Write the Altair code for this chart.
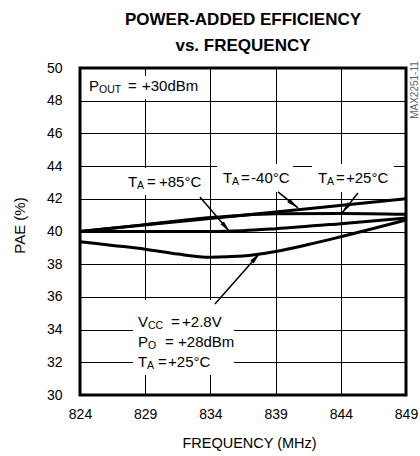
import altair as alt
import pandas as pd
import numpy as np

# ---------------- data ----------------
freq_m40 = [824, 836.5, 849]
pae_m40 = [40.0, 41.0, 42.0]
freq_p25 = [824, 829, 834, 836.5, 839, 844, 849]
pae_p25 = [40.0, 40.42, 40.85, 41.0, 41.08, 41.1, 41.05]
freq_p85 = [824, 829, 834, 836.5, 839, 844, 849]
pae_p85 = [40.0, 40.0, 40.0, 40.05, 40.17, 40.48, 40.82]
freq_lv = [824, 826.5, 829, 831.5, 834, 836.5, 839, 841.5, 844, 846.5, 849]
pae_lv = [39.38, 39.15, 38.92, 38.62, 38.43, 38.5, 38.78, 39.2, 39.68, 40.18, 40.7]

x_ticks = [824, 829, 834, 839, 844, 849]
y_ticks = list(range(30, 52, 2))

# ---------------- layout ----------------
W, H = 326, 327
XMIN, XMAX, YMIN, YMAX = 824, 849, 30, 50
PXF = W / (XMAX - XMIN)
PXP = H / (YMAX - YMIN)
FONT = "Liberation Sans, Arial, sans-serif"
BIG, SUB = 15, 10.5
XT, YT = "FREQUENCY (MHz)", "PAE (%)"

curves = pd.concat([
    pd.DataFrame({"f": freq_m40, "pae": pae_m40, "s": "m40"}),
    pd.DataFrame({"f": freq_p25, "pae": pae_p25, "s": "p25"}),
    pd.DataFrame({"f": freq_p85, "pae": pae_p85, "s": "p85"}),
    pd.DataFrame({"f": freq_lv, "pae": pae_lv, "s": "lv"}),
])

# annotation labels: anchor (freq, pae) + pieces (text, dx px, dy px, size)
labels = [
    ((824.69, 48.87), [("P", 0, 0, BIG), ("OUT", 10, 4, SUB), ("=", 39, 0, BIG), ("+30dBm", 53, 0, BIG)]),
    ((827.68, 43.03), [("T", 0, 0, BIG), ("A", 9, 4, SUB), ("=", 19, 0, BIG), ("+85°C", 31, 0, BIG)]),
    ((834.97, 43.27), [("T", 0, 0, BIG), ("A", 9, 4, SUB), ("=", 18, 0, BIG), ("-40°C", 28, 0, BIG)]),
    ((842.25, 43.27), [("T", 0, 0, BIG), ("A", 9, 4, SUB), ("=", 18, 0, BIG), ("+25°C", 28, 0, BIG)]),
    ((828.45, 34.46), [("V", 0, 0, BIG), ("CC", 10, 4, SUB), ("=", 33, 0, BIG), ("+2.8V", 44, 0, BIG)]),
    ((828.45, 33.24), [("P", 0, 0, BIG), ("O", 10, 4, SUB), ("=", 27, 0, BIG), ("+28dBm", 40, 0, BIG)]),
    ((828.45, 32.02), [("T", 0, 0, BIG), ("A", 9, 4, SUB), ("=", 20, 0, BIG), ("+25°C", 30, 0, BIG)]),
]
rows = []
for (af, ap), pieces in labels:
    for t, dx, dy, sz in pieces:
        rows.append({"f": af + dx / PXF, "pae": ap - dy / PXP, "t": t, "sz": sz})
text_df = pd.DataFrame(rows)

boxes = pd.DataFrame({
    "f1": [824.46, 827.45, 834.51, 841.79, 828.06],
    "f2": [833.20, 833.43, 840.33, 848.08, 835.81],
    "p1": [49.51, 43.88, 44.13, 44.13, 35.81],
    "p2": [48.10, 42.23, 42.42, 42.42, 31.22],
})

arrows = pd.DataFrame({
    "f1": [839.18, 845.32, 833.20, 834.35],
    "p1": [42.42, 42.35, 42.11, 35.57],
    "f2": [840.72, 844.09, 835.50, 837.80],
    "p2": [41.44, 41.13, 39.97, 38.68],
})
dxp = (arrows["f2"] - arrows["f1"]) * PXF
dyp = -(arrows["p2"] - arrows["p1"]) * PXP
arrows["ang"] = np.degrees(np.arctan2(dxp, -dyp)) % 360

xs = alt.Scale(domain=[XMIN, XMAX], nice=False, zero=False)
ys = alt.Scale(domain=[YMIN, YMAX], nice=False, zero=False)

X_AX = alt.Axis(values=x_ticks, grid=True, gridColor="black", gridWidth=1,
                ticks=False, domain=False, labelFont=FONT, labelFontSize=14,
                labelColor="black", labelPadding=12, labelFlush=False, labelOverlap=False,
                titleFont=FONT, titleFontSize=14.5, titleFontWeight="normal",
                titleColor="black", titleX=169, titleY=48, titleBaseline="middle")
Y_AX = alt.Axis(values=y_ticks, grid=True, gridColor="black", gridWidth=1,
                ticks=False, domain=False, labelFont=FONT, labelFontSize=14,
                labelColor="black", labelPadding=18, labelBaseline="middle",
                labelOverlap=False, labelFlush=False,
                titleFont=FONT, titleFontSize=15, titleFontWeight="normal",
                titleColor="black", titleX=-61, titleY=157, titleBaseline="middle",
                titleAngle=270)


def X(field):
    return alt.X(field, scale=xs, axis=X_AX, title=XT)


def Y(field):
    return alt.Y(field, scale=ys, axis=Y_AX, title=YT)


lines = alt.Chart(curves).mark_line(color="black", strokeWidth=3, interpolate="monotone").encode(
    x=X("f:Q"), y=Y("pae:Q"), detail="s:N")

box_layer = alt.Chart(boxes).mark_rect(color="white").encode(
    x=X("f1:Q"), x2="f2:Q", y=Y("p1:Q"), y2="p2:Q")

text_layer = alt.Chart(text_df).mark_text(align="left", baseline="middle", font=FONT,
                                          color="black").encode(
    x=X("f:Q"), y=Y("pae:Q"), text="t:N",
    size=alt.Size("sz:Q", scale=None, legend=None))

rule_layer = alt.Chart(arrows).mark_rule(color="black", strokeWidth=1.5).encode(
    x=X("f1:Q"), y=Y("p1:Q"), x2="f2:Q", y2="p2:Q")

head_layer = alt.Chart(arrows).mark_point(
    shape="M0,0L-0.45,2.4L0.45,2.4Z", filled=True, color="black", opacity=1, size=100
).encode(x=X("f2:Q"), y=Y("p2:Q"), angle=alt.Angle("ang:Q", scale=None))

code_df = pd.DataFrame({"f": [XMAX + 9 / PXF], "pae": [YMAX - 22 / PXP], "t": ["MAX2251-11"]})
code_layer = alt.Chart(code_df).mark_text(angle=270, font=FONT, fontSize=10, color="#666",
                                          align="center", baseline="middle").encode(
    x=X("f:Q"), y=Y("pae:Q"), text="t:N")

chart = alt.layer(lines, box_layer, rule_layer, head_layer, text_layer, code_layer).properties(
    width=W, height=H,
    title=alt.TitleParams(["POWER-ADDED EFFICIENCY", "vs. FREQUENCY"], font=FONT, fontSize=17,
                          fontWeight="bold", color="black", anchor="middle", lineHeight=26,
                          offset=6),
    autosize=alt.AutoSizeParams(type="none"),
    padding={"left": 80, "top": 68, "right": 14, "bottom": 61},
    background="white",
).configure_view(stroke="black", strokeWidth=3, fill="white")

chart.save("out.html", embed_options={"renderer": "svg", "actions": False})
